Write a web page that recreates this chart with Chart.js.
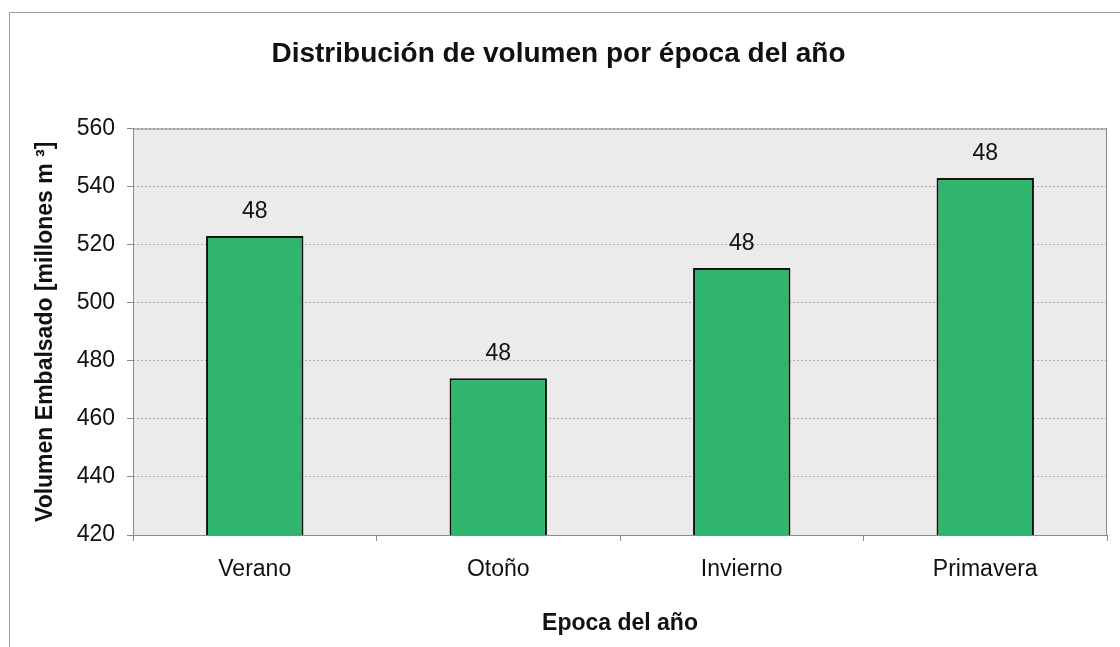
<!DOCTYPE html>
<html lang="es">
<head>
<meta charset="UTF-8">
<title>Distribución de volumen por época del año</title>
<script src="https://cdn.jsdelivr.net/npm/chart.js"></script>
<style>
  body { margin: 0; background: #fff; }
  canvas { display: block; }
</style>
</head>
<body>
<canvas id="volChart" width="1120" height="647"></canvas>
<script>
// datos
const epocas = ['Verano', 'Otoño', 'Invierno', 'Primavera'];
const volumen = [523, 474, 512, 543];
const etiquetas = ['48', '48', '48', '48'];
const yTicks = [420, 440, 460, 480, 500, 520, 540, 560];

const FONT = '"Liberation Sans", Arial, sans-serif';

// fondo gris del área de trazado + marco exterior
const fondo = {
  id: 'fondo',
  beforeDraw(chart) {
    const { ctx, chartArea: a } = chart;
    ctx.save();
    ctx.fillStyle = '#ebebeb';
    ctx.fillRect(a.left, a.top, a.right - a.left, a.bottom - a.top);
    ctx.strokeStyle = '#9a9a9a';
    ctx.lineWidth = 1;
    ctx.beginPath();
    ctx.moveTo(9.5, 647);
    ctx.lineTo(9.5, 12.5);
    ctx.lineTo(1120, 12.5);
    ctx.stroke();
    ctx.restore();
  },
  afterDraw(chart) {
    const { ctx, chartArea: a } = chart;
    ctx.save();
    ctx.strokeStyle = '#8a8a8a';
    ctx.lineWidth = 1;
    ctx.strokeRect(a.left + 0.5, a.top + 0.5, a.right - a.left - 1, a.bottom - a.top);
    ctx.restore();
  }
};

// etiquetas de datos encima de las barras
const etiquetasBarras = {
  id: 'etiquetasBarras',
  afterDatasetsDraw(chart) {
    const { ctx } = chart;
    const meta = chart.getDatasetMeta(0);
    ctx.save();
    ctx.fillStyle = '#111';
    ctx.font = '23px ' + FONT;
    ctx.textAlign = 'center';
    ctx.textBaseline = 'alphabetic';
    meta.data.forEach((bar, i) => {
      ctx.fillText(etiquetas[i], bar.x, bar.y - 18);
    });
    ctx.restore();
  }
};

new Chart(document.getElementById('volChart'), {
  type: 'bar',
  data: {
    labels: epocas,
    datasets: [{
      data: volumen,
      backgroundColor: '#2fb56e',
      borderColor: '#111',
      borderWidth: 2,
      borderSkipped: 'bottom',
      barPercentage: 0.8,
      categoryPercentage: 0.5
    }]
  },
  options: {
    responsive: false,
    animation: false,
    layout: { padding: { left: 10, right: 13, top: 0, bottom: 0 } },
    plugins: {
      legend: { display: false },
      tooltip: { enabled: false },
      title: {
        display: true,
        text: 'Distribución de volumen por época del año',
        color: '#111',
        font: { family: FONT, size: 28, weight: 'bold' },
        padding: { top: 37, bottom: 58 }
      }
    },
    scales: {
      x: {
        afterFit(scale) { scale.height = 112; },
        grid: { display: true, drawOnChartArea: false, offset: true, tickLength: 6, color: '#888' },
        border: { display: false },
        ticks: { color: '#111', font: { family: FONT, size: 23 }, padding: 15 },
        title: {
          display: true,
          text: 'Epoca del año',
          color: '#111',
          font: { family: FONT, size: 23, weight: 'bold' },
          padding: { top: 0, bottom: 10 }
        }
      },
      y: {
        min: 420,
        max: 560,
        afterBuildTicks(scale) { scale.ticks = yTicks.map(v => ({ value: v })); },
        afterFit(scale) { scale.width = 123; },
        grid: {
          color: '#a8a8a8',
          tickLength: 6,
          tickColor: '#888',
          tickBorderDash: [],
          lineWidth: 1
        },
        border: { display: false, dash: [2, 2] },
        ticks: { color: '#111', font: { family: FONT, size: 23 }, padding: 12 },
        title: {
          display: true,
          text: 'Volumen Embalsado [millones m ³]',
          color: '#111',
          font: { family: FONT, size: 23, weight: 'bold' },
          padding: { top: 22, bottom: 0 }
        }
      }
    }
  },
  plugins: [fondo, etiquetasBarras]
});
</script>
</body>
</html>
